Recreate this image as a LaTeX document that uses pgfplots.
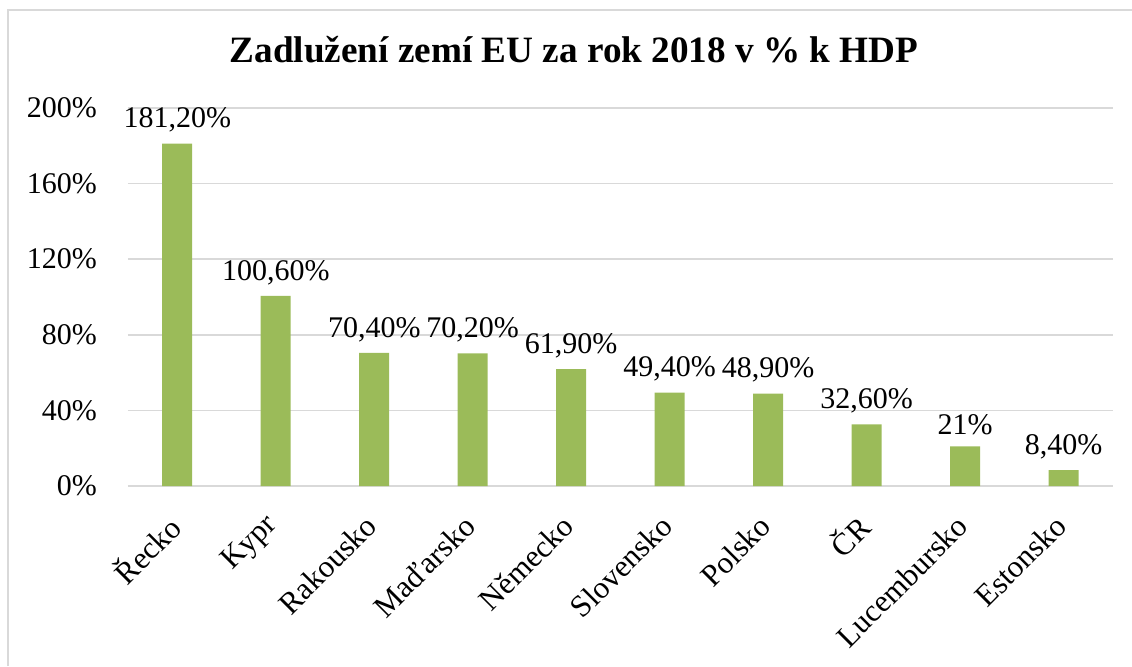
\documentclass[border=0pt]{standalone}
\usepackage{fontspec}
\setmainfont{Liberation Serif}
\usepackage{pgfplots}
\usepackage{pgfplotstable}
\pgfplotsset{compat=1.18}
\definecolor{barg}{HTML}{9BBB59}
\definecolor{gridg}{HTML}{D9D9D9}
\pgfplotstableread[col sep=semicolon, row sep=\\]{
x;y;lab\\
0;181.2;181,20\%\\
1;100.6;100,60\%\\
2;70.4;70,40\%\\
3;70.2;70,20\%\\
4;61.9;61,90\%\\
5;49.4;49,40\%\\
6;48.9;48,90\%\\
7;32.6;32,60\%\\
8;21;21\%\\
9;8.4;8,40\%\\
}\datatable
\begin{document}
\begin{tikzpicture}
\path[use as bounding box] (0,0) rectangle (566pt,333pt);
\draw[gridg, line width=0.8pt] (4pt,0) -- (4pt,328pt) -- (566pt,328pt);
\node[font=\fontsize{18.6}{22}\selectfont\bfseries] at (287pt,308pt) {Zadlužení zemí EU za rok 2018 v \% k HDP};
\begin{axis}[
  at={(64pt,90pt)}, anchor=south west,
  scale only axis, width=492.5pt, height=189pt,
  xmin=-0.5, xmax=9.5, ymin=0, ymax=200,
  axis line style={draw=none},
  major tick length=0pt,
  ymajorgrids, grid style={gridg, line width=0.8pt},
  ytick={0,40,80,120,160,200},
  yticklabel={\pgfmathprintnumber{\tick}\%},
  yticklabel style={font=\fontsize{15}{18}\selectfont, xshift=-12pt},
  xtick=data,
  xticklabels={Řecko,Kypr,Rakousko,Maďarsko,Německo,Slovensko,Polsko,ČR,Lucembursko,Estonsko},
  xticklabel style={font=\fontsize{15.5}{18}\selectfont, xshift=1pt, yshift=-15pt, rotate=45, anchor=east},
  /pgf/number format/assume math mode=true,
  nodes near coords={\pgfplotspointmeta},
  point meta=explicit symbolic,
  nodes near coords style={font=\fontsize{15}{18}\selectfont, anchor=south, yshift=2pt},
  clip=false,
]
\addplot[ybar, bar width=15pt, fill=barg, draw=none] table[x=x, y=y, meta=lab] {\datatable};
\end{axis}
\end{tikzpicture}
\end{document}
